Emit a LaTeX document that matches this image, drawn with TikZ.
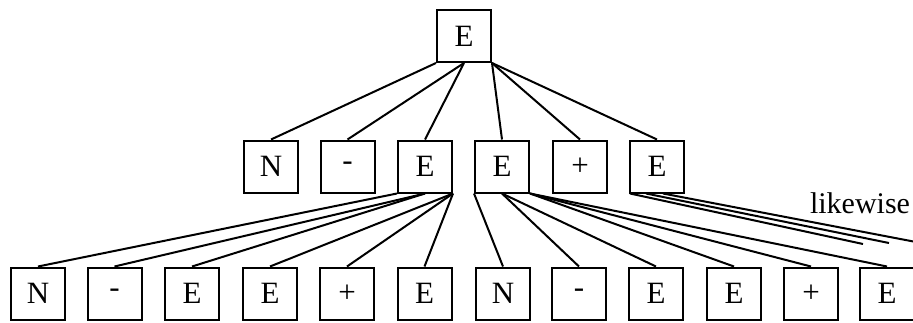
\documentclass[tikz,border=0pt]{standalone}
\usepackage{fontspec}
\setmainfont{Liberation Serif}
\begin{document}
\begin{tikzpicture}[x=1pt,y=-1pt,line width=2pt,
  sym/.style={draw,minimum width=54pt,minimum height=52pt,inner sep=0pt,font=\fontsize{31}{31}\selectfont},
  edge/.style={line width=2pt}]
\useasboundingbox (0,0) rectangle (913,322);
% top
\node[sym] (T) at (464,36) {E};
% middle row
\node[sym] (m1) at (271,166.5) {N};
\node[sym] (m2) at (347.5,166.5) {-};
\node[sym] (m3) at (425,166.5) {E};
\node[sym] (m4) at (502,166.5) {E};
\node[sym] (m5) at (580,166.5) {+};
\node[sym] (m6) at (657,166.5) {E};
% bottom row
\node[sym] (b1) at (38,293.5) {N};
\node[sym] (b2) at (114.5,293.5) {-};
\node[sym] (b3) at (192,293.5) {E};
\node[sym] (b4) at (270,293.5) {E};
\node[sym] (b5) at (347,293.5) {+};
\node[sym] (b6) at (424.5,293.5) {E};
\node[sym] (b7) at (503,293.5) {N};
\node[sym] (b8) at (579,293.5) {-};
\node[sym] (b9) at (656,293.5) {E};
\node[sym] (b10) at (734,293.5) {E};
\node[sym] (b11) at (811,293.5) {+};
\node[sym] (b12) at (887,293.5) {E};
% label
\node[anchor=base,inner sep=0pt,font=\fontsize{30}{30}\selectfont] (lw) at (860,213) {likewise};
% top connectors
\draw[edge] (T.south west) -- (m1.north);
\draw[edge] (T.south) -- (m2.north);
\draw[edge] (T.south) -- (m3.north);
\draw[edge] (T.south east) -- (m4.north);
\draw[edge] (T.south east) -- (m5.north);
\draw[edge] (T.south east) -- (m6.north);
% m3 children
\draw[edge] (m3.south west) -- (b1.north);
\draw[edge] (m3.south) -- (b2.north);
\draw[edge] (m3.south) -- (b3.north);
\draw[edge] (m3.south east) -- (b4.north);
\draw[edge] (m3.south east) -- (b5.north);
\draw[edge] (m3.south east) -- (b6.north);
% m4 children
\draw[edge] (m4.south west) -- (b7.north);
\draw[edge] (m4.south) -- (b8.north);
\draw[edge] (m4.south) -- (b9.north);
\draw[edge] (m4.south east) -- (b10.north);
\draw[edge] (m4.south east) -- (b11.north);
\draw[edge] (m4.south east) -- (b12.north);
% likewise lines from m6
\path (m6.south west) ++(1,0) coordinate (s1);
\path (m6.south west) ++(17,0) coordinate (s2);
\path (m6.south west) ++(34,0) coordinate (s3);
\coordinate (e1) at (863,244);
\coordinate (e2) at (889,243);
\coordinate (e3) at (916,242);
\draw[edge] (s1) -- (e1);
\draw[edge] (s2) -- (e2);
\draw[edge] (s3) -- (e3);
\end{tikzpicture}
\end{document}
